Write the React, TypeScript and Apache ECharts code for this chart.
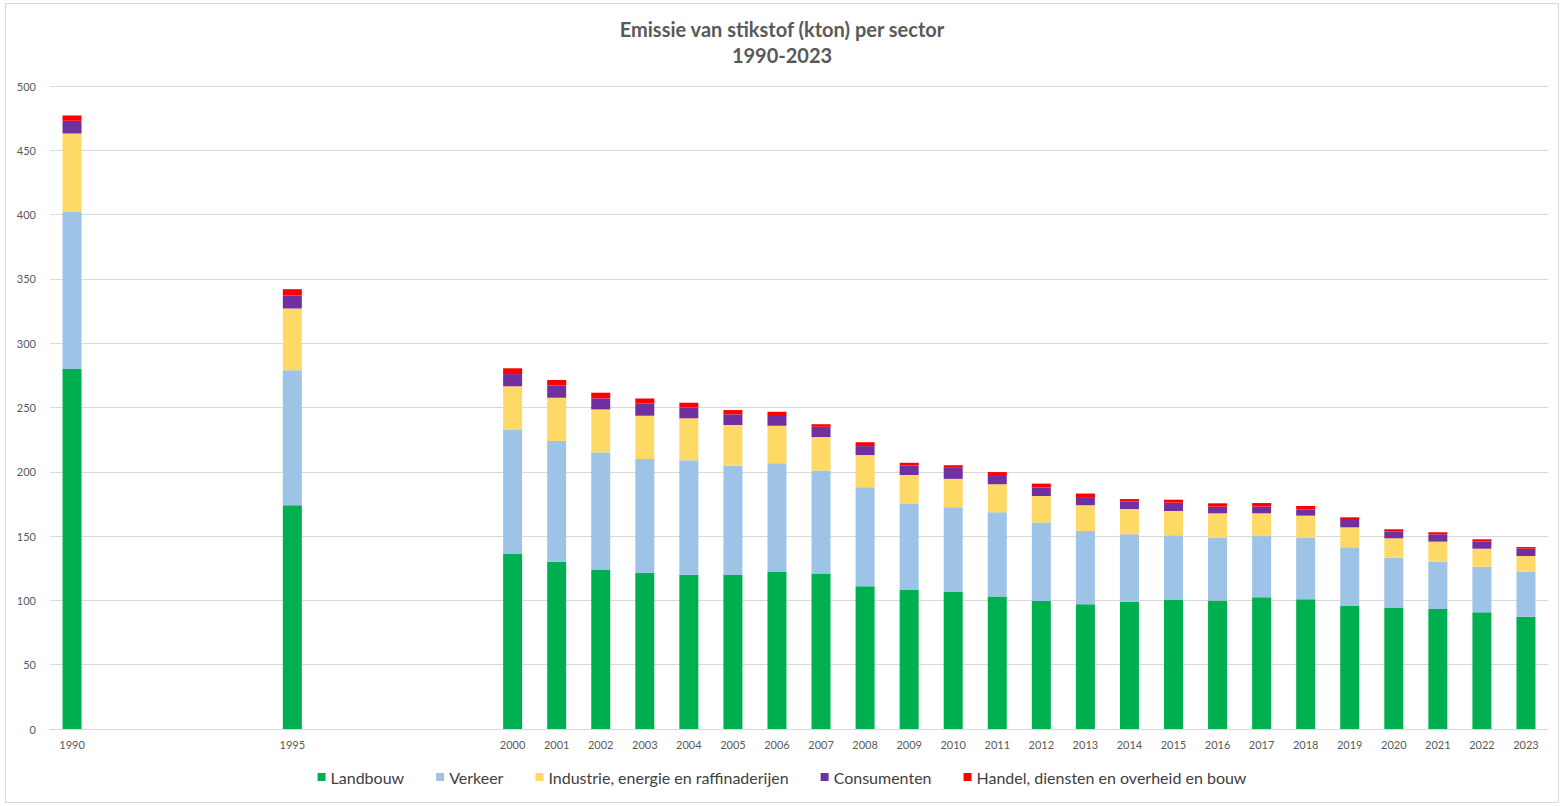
import React, { useEffect, useRef } from "react";
import * as echarts from "echarts";

// Years on the category axis (only the years with data get a label)
const years: string[] = [];
for (let y = 1990; y <= 2023; y++) years.push(String(y));

const dataYears = [
  "1990", "1995", "2000", "2001", "2002", "2003", "2004", "2005", "2006", "2007", "2008",
  "2009", "2010", "2011", "2012", "2013", "2014", "2015", "2016", "2017", "2018", "2019",
  "2020", "2021", "2022", "2023",
];

// Emissions in kton, one value per entry of dataYears
const landbouw = [
  280, 174, 136, 130, 124, 121.5, 120, 119.7, 122, 121, 111, 108, 106.5, 103, 99.5, 97,
  99, 100.3, 100, 102.4, 100.8, 95.6, 94, 93.3, 90.7, 87.3,
];
const verkeer = [
  122, 105, 96.5, 94, 91, 88.5, 89, 85, 84.6, 80, 77, 67, 66, 65.5, 61, 57, 52.4, 50.3,
  49, 47.6, 48.2, 45.7, 39.2, 36.7, 35.5, 35,
];
const industrie = [
  61, 48, 34, 33.6, 33.5, 33.6, 32.6, 31.7, 29.2, 26, 25, 22.5, 22, 21.8, 20.7, 20, 19.6,
  18.9, 18.7, 17.7, 16.9, 15.5, 15.1, 15.7, 14, 12.2,
];
const consumenten = [
  10, 10, 9.5, 9.4, 8.6, 9.4, 8.4, 8.3, 7.6, 8, 7, 7.3, 8.6, 7.2, 6.6, 5.7, 5.8, 6.5, 5.2,
  5.3, 4.9, 5.7, 5.4, 5.7, 5.7, 5.7,
];
const handel = [
  4, 5, 4.5, 4.4, 4.4, 4, 3.7, 3.3, 3.3, 2, 3, 2.2, 2, 2.3, 3, 3.4, 2, 2.3, 2.6, 2.7, 2.6,
  2.1, 1.6, 1.6, 1.6, 1.3,
];

const seriesNames = [
  "Landbouw",
  "Verkeer",
  "Industrie, energie en raffinaderijen",
  "Consumenten",
  "Handel, diensten en overheid en bouw",
];
const seriesColors = ["#00B050", "#9DC3E6", "#FFD966", "#7030A0", "#FF0000"];
const seriesValues = [landbouw, verkeer, industrie, consumenten, handel];

// Spread a series over all years, leaving gaps where no value exists
function expand(values: number[]): (number | null)[] {
  return years.map((y) => {
    const i = dataYears.indexOf(y);
    return i >= 0 ? values[i] : null;
  });
}

const FONT = "Lato, 'Open Sans', sans-serif";

export default function App() {
  const ref = useRef<HTMLDivElement>(null);

  useEffect(() => {
    if (!ref.current) return;
    const chart = echarts.init(ref.current, undefined, { renderer: "svg" });
    chart.setOption({
      animation: false,
      backgroundColor: "#ffffff",
      textStyle: { fontFamily: FONT },
      title: {
        text: "Emissie van stikstof (kton) per sector\n1990-2023",
        left: "center",
        top: 11,
        textStyle: {
          fontFamily: FONT,
          fontSize: 20,
          fontWeight: "bold",
          color: "#595959",
          lineHeight: 26,
        },
      },
      graphic: [
        {
          type: "rect",
          shape: { x: 5.5, y: 3.5, width: 1553, height: 799 },
          style: { fill: "none", stroke: "#d9d9d9", lineWidth: 1 },
          silent: true,
        },
      ],
      legend: {
        bottom: 16,
        left: "center",
        icon: "rect",
        itemWidth: 8,
        itemHeight: 8,
        itemGap: 32,
        textStyle: { fontFamily: FONT, fontSize: 16, color: "#404040" },
        data: seriesNames,
      },
      grid: { left: 50, right: 16, top: 86, bottom: 77, containLabel: false },
      xAxis: {
        type: "category",
        data: years,
        axisLine: { lineStyle: { color: "#d9d9d9" } },
        axisTick: { show: false },
        axisLabel: {
          interval: 0,
          color: "#595959",
          fontSize: 11,
          margin: 10,
          formatter: (v: string) => (dataYears.includes(v) ? v : ""),
        },
      },
      yAxis: {
        type: "value",
        min: 0,
        max: 500,
        interval: 50,
        axisLine: { show: false },
        axisTick: { show: false },
        axisLabel: { color: "#595959", fontSize: 11, margin: 14 },
        splitLine: { lineStyle: { color: "#d9d9d9" } },
      },
      series: seriesNames.map((name, i) => ({
        name,
        type: "bar",
        stack: "total",
        barWidth: 19,
        itemStyle: { color: seriesColors[i] },
        data: expand(seriesValues[i]),
      })),
    });
    return () => chart.dispose();
  }, []);

  return (
    <div
      ref={ref}
      style={{ position: "fixed", left: 0, top: 0, width: 1564, height: 806 }}
    />
  );
}
